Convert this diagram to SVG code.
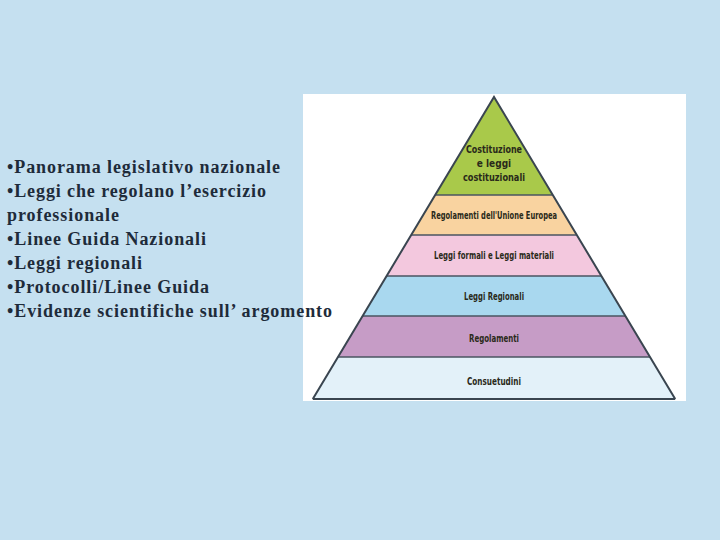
<svg xmlns="http://www.w3.org/2000/svg" width="720" height="540" viewBox="0 0 720 540">
<style>
.b{font-family:"Liberation Serif","Times New Roman",serif;font-weight:bold;font-size:18px;fill:#1e2b3a}
.p{font-family:"DejaVu Sans Condensed","Liberation Sans Narrow","Liberation Sans",sans-serif;font-stretch:condensed;font-weight:bold;font-size:10px;fill:#2a2a1a;text-anchor:middle}
.sep{stroke:#4a5560;stroke-width:1.5}
</style>
<rect width="720" height="540" fill="#c5e0f0"/>
<g id="pyramid">
<rect x="303" y="94" width="383" height="307" fill="#ffffff"/>
<g id="l1"><polygon points="494,97 435.2,195 552.8,195" fill="#a9c94a"/>
<text class="p" x="494" y="153" textLength="56" lengthAdjust="spacingAndGlyphs">Costituzione</text><text class="p" x="494" y="167">e leggi</text><text class="p" x="494" y="181" textLength="62" lengthAdjust="spacingAndGlyphs">costituzionali</text></g>
<g id="l2"><polygon points="435.2,195 552.8,195 576.8,235 411.2,235" fill="#f9d3a0"/>
<text class="p" x="494" y="219" textLength="126" lengthAdjust="spacingAndGlyphs">Regolamenti dell'Unione Europea</text></g>
<g id="l3"><polygon points="411.2,235 576.8,235 601.4,276 386.6,276" fill="#f3c8de"/>
<text class="p" x="494" y="259" textLength="120" lengthAdjust="spacingAndGlyphs">Leggi formali e Leggi materiali</text></g>
<g id="l4"><polygon points="386.6,276 601.4,276 625.4,316 362.6,316" fill="#a9d8ef"/>
<text class="p" x="494" y="300" textLength="60" lengthAdjust="spacingAndGlyphs">Leggi Regionali</text></g>
<g id="l5"><polygon points="362.6,316 625.4,316 650,357 338,357" fill="#c69cc6"/>
<text class="p" x="494" y="342" textLength="50" lengthAdjust="spacingAndGlyphs">Regolamenti</text></g>
<g id="l6"><polygon points="338,357 650,357 675.2,399 312.8,399" fill="#e3f1f9"/>
<text class="p" x="494" y="385" textLength="54" lengthAdjust="spacingAndGlyphs">Consuetudini</text></g>
<g id="lines">
<line class="sep" x1="435.2" y1="195" x2="552.8" y2="195"/>
<line class="sep" x1="411.2" y1="235" x2="576.8" y2="235"/>
<line class="sep" x1="386.6" y1="276" x2="601.4" y2="276"/>
<line class="sep" x1="362.6" y1="316" x2="625.4" y2="316"/>
<line class="sep" x1="338" y1="357" x2="650" y2="357"/>
<polyline points="312.8,399 494,97 675.2,399" fill="none" stroke="#3a4550" stroke-width="2"/>
<line x1="312.8" y1="399" x2="675.2" y2="399" stroke="#3a4550" stroke-width="2"/>
</g>
</g>
<g id="text">
<text class="b" x="7" y="173" textLength="273" lengthAdjust="spacing">•Panorama legislativo nazionale</text>
<text class="b" x="7" y="197" textLength="259" lengthAdjust="spacing">•Leggi che regolano l’esercizio</text>
<text class="b" x="7" y="221" textLength="112" lengthAdjust="spacing">professionale</text>
<text class="b" x="7" y="245" textLength="199" lengthAdjust="spacing">•Linee Guida Nazionali</text>
<text class="b" x="7" y="269" textLength="135" lengthAdjust="spacing">•Leggi regionali</text>
<text class="b" x="7" y="293" textLength="202" lengthAdjust="spacing">•Protocolli/Linee Guida</text>
<text class="b" x="7" y="317" textLength="325" lengthAdjust="spacing">•Evidenze scientifiche sull’ argomento</text>
</g>
</svg>
